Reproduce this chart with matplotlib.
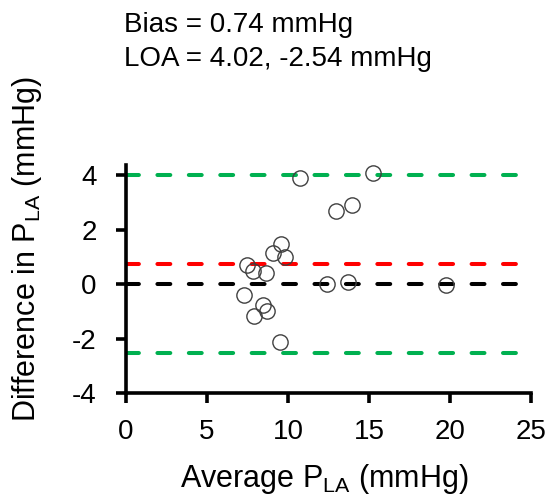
import matplotlib
matplotlib.use("Agg")
import matplotlib.pyplot as plt

plt.rcParams['font.family'] = ['Liberation Sans', 'DejaVu Sans']
plt.rcParams['mathtext.fontset'] = 'custom'
plt.rcParams['mathtext.rm'] = 'Liberation Sans'
plt.rcParams['mathtext.it'] = 'Liberation Sans'
plt.rcParams['axes.unicode_minus'] = False

# Bland-Altman data: mean of the two P_LA measurements vs their difference
average_pla = [10.74, 15.27, 12.96, 13.95, 9.59, 9.06, 9.81, 7.45, 7.86,
               8.64, 12.43, 13.69, 7.28, 8.44, 8.72, 7.92, 9.51, 19.73]
difference_pla = [3.89, 4.07, 2.69, 2.90, 1.48, 1.13, 1.00, 0.71, 0.49,
                  0.42, 0.00, 0.08, -0.40, -0.76, -0.99, -1.18, -2.12, -0.03]

bias = 0.74
loa_upper = 4.02
loa_lower = -2.54

x_ticks = [0, 5, 10, 15, 20, 25]
y_ticks = [-4, -2, 0, 2, 4]

W, H = 551, 497
fig = plt.figure(figsize=(W / 100, H / 100), dpi=100)
ax = fig.add_axes([126 / W, 1 - 393 / H, 405 / W, 228 / H])

line_x = [0, 24.2]
dash_kw = dict(linewidth=2.9, dash_capstyle='round', dashes=(3.2, 4.6), zorder=1)
ax.plot(line_x, [0, 0], color='black', **dash_kw)
ax.plot(line_x, [bias, bias], color='#ff0000', **dash_kw)
ax.plot(line_x, [loa_upper, loa_upper], color='#00b050', **dash_kw)
ax.plot(line_x, [loa_lower, loa_lower], color='#00b050', **dash_kw)

ax.plot(average_pla, difference_pla, linestyle='none', marker='o',
        markersize=11, markerfacecolor='none', markeredgecolor='#404040',
        markeredgewidth=1.0, zorder=3)

ax.set_xlim(0, 25)
ax.set_ylim(-4, 4.37)
ax.set_xticks(x_ticks)
ax.set_yticks(y_ticks)
ax.spines['top'].set_visible(False)
ax.spines['right'].set_visible(False)
for s in ('left', 'bottom'):
    ax.spines[s].set_linewidth(2.6)
ax.tick_params(axis='both', direction='out', length=7, width=2.6,
               labelsize=20, colors='black')
ax.tick_params(axis='y', pad=14)
ax.tick_params(axis='x', pad=12)

fig.text(324 / W, 1 - 487 / H, r'Average P$_{\mathrm{LA}}$ (mmHg)', fontsize=22,
         ha='center', va='baseline')
fig.text(27 / W, 1 - 249 / H, r'Difference in P$_{\mathrm{LA}}$ (mmHg)', fontsize=22,
         ha='center', va='center', rotation=90)

fig.text(124 / W, 1 - 32 / H, 'Bias = 0.74 mmHg', fontsize=20,
         ha='left', va='baseline')
fig.text(124 / W, 1 - 65.5 / H, 'LOA = 4.02, -2.54 mmHg', fontsize=20,
         ha='left', va='baseline')

fig.savefig('out.png', dpi=100)
